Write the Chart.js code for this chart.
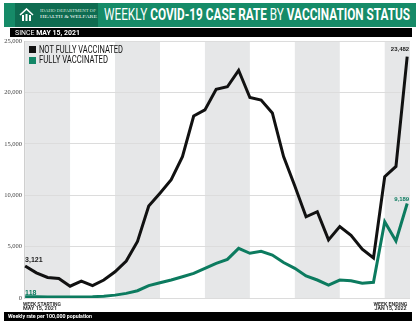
<!DOCTYPE html>
<html>
<head>
<meta charset="utf-8">
<script src="https://cdn.jsdelivr.net/npm/chart.js@4.4.1/dist/chart.umd.min.js"></script>
<style>
  html, body { margin: 0; padding: 0; background: #fff; }
  #wrap { position: relative; width: 420px; height: 325px; overflow: hidden; font-family: Roboto, "Liberation Sans", sans-serif; }
  #chart { position: absolute; left: 0; top: 0; }
  .abs { position: absolute; white-space: nowrap; line-height: 1; }
  .fit { display: inline-block; transform-origin: left center; }
  .fitr { display: inline-block; transform-origin: right center; }
</style>
</head>
<body>
<div id="wrap">
  <canvas id="chart" width="420" height="325"></canvas>

  <div class="abs" style="left:4px;top:3px;width:412px;height:24px;background:#168b68;"></div>
  <div class="abs" style="left:15px;top:3px;width:83px;height:24px;background:#0f6c51;"></div>
  <svg class="abs" style="left:19px;top:8px;" width="15" height="14" viewBox="0 0 15 14">
    <path d="M1 7 L7.5 1 L14 7" fill="none" stroke="#fff" stroke-width="1.6"/>
    <rect x="3" y="7" width="2" height="6" fill="#fff"/>
    <rect x="6.5" y="6" width="2" height="7" fill="#fff"/>
    <rect x="10" y="7" width="2" height="6" fill="#fff"/>
  </svg>
  <div class="abs" style="left:40px;top:10px;color:#cfe8df;font-family:'Liberation Serif',serif;font-size:3.5px;"><span class="fit" data-w="56">IDAHO DEPARTMENT OF</span></div>
  <div class="abs" style="left:40px;top:14px;color:#fff;font-family:'Liberation Serif',serif;font-size:5px;"><span class="fit" data-w="57">HEALTH &amp; WELFARE</span></div>

  <div class="abs" style="left:104px;top:7px;color:#fff;font-size:16px;"><span class="fit" data-w="306">WEEKLY <b>COVID-19 CASE RATE</b> BY <b>VACCINATION STATUS</b></span></div>

  <div class="abs" style="left:10px;top:28px;width:402px;height:9px;background:#000;"></div>
  <div class="abs" style="left:15px;top:29px;color:#fff;font-size:8px;"><span class="fit" data-w="65">SINCE <b>MAY 15, 2021</b></span></div>

  <div class="abs" style="left:29px;top:46px;width:7px;height:7px;background:#111;"></div>
  <div class="abs" style="left:39px;top:44.5px;color:#111;font-size:10px;"><span class="fit" data-w="84">NOT FULLY VACCINATED</span></div>
  <div class="abs" style="left:29px;top:57px;width:7px;height:7px;background:#138767;"></div>
  <div class="abs" style="left:39px;top:55px;color:#111;font-size:10px;"><span class="fit" data-w="69">FULLY VACCINATED</span></div>

  <div class="abs" style="left:23px;top:302px;color:#333;font-size:5px;line-height:4px;font-weight:bold;">
    <span class="fit" data-w="38">WEEK STARTING</span><br><span class="fit" data-w="34">MAY 15, 2021</span>
  </div>
  <div class="abs" style="right:13px;top:302px;color:#333;font-size:5px;line-height:4px;font-weight:bold;text-align:right;">
    <span class="fitr" data-w="34">WEEK ENDING</span><br><span class="fitr" data-w="32">JAN 15, 2022</span>
  </div>

  <div class="abs" style="left:4px;top:312px;width:408px;height:9px;background:#000;"></div>
  <div class="abs" style="left:8px;top:313px;color:#fff;font-size:6px;font-weight:bold;"><span class="fit" data-w="84">Weekly rate per 100,000 population</span></div>
</div>

<script>
// week starting dates, May 15, 2021 -> Jan 2022
const weeks = [
  'May 15', 'May 22', 'May 29', 'Jun 5', 'Jun 12', 'Jun 19', 'Jun 26',
  'Jul 3', 'Jul 10', 'Jul 17', 'Jul 24', 'Jul 31', 'Aug 7', 'Aug 14',
  'Aug 21', 'Aug 28', 'Sep 4', 'Sep 11', 'Sep 18', 'Sep 25', 'Oct 2',
  'Oct 9', 'Oct 16', 'Oct 23', 'Oct 30', 'Nov 6', 'Nov 13', 'Nov 20',
  'Nov 27', 'Dec 4', 'Dec 11', 'Dec 18', 'Dec 25', 'Jan 1', 'Jan 8'
];

const notFully = [
  3121, 2450, 2000, 1900, 1150, 1650, 1200, 1750, 2550, 3600,
  5500, 8950, 10200, 11500, 13750, 17700, 18300, 20300, 20550, 22150,
  19500, 19250, 18000, 13750, 10900, 7900, 8400, 5650, 6950, 6100,
  4750, 3900, 11800, 12800, 23482
];

const fully = [
  118, 110, 105, 100, 95, 105, 125, 175, 280, 450,
  710, 1200, 1490, 1750, 2070, 2400, 2890, 3370, 3760, 4830,
  4350, 4540, 4180, 3450, 2890, 2140, 1750, 1260, 1750, 1680,
  1430, 1530, 7420, 5545, 9189
];

const yMin = 0;
const yMax = 25000;
const yStep = 5000;

// shaded 4-week blocks
const bandStarts = [0, 8, 16, 24, 32];
const bandLen = 4;

const black = '#111111';
const green = '#0c7b5f';

const bands = {
  id: 'bands',
  beforeDraw(chart) {
    const {ctx, chartArea: a, scales: {x}} = chart;
    ctx.save();
    ctx.fillStyle = '#e6e7e8';
    bandStarts.forEach(s => {
      const l = Math.max(a.left, x.getPixelForValue(s));
      const r = Math.min(a.right, x.getPixelForValue(s + bandLen));
      ctx.fillRect(l, a.top, r - l, a.bottom - a.top);
    });
    ctx.restore();
  }
};

const endLabels = {
  id: 'endLabels',
  afterDatasetsDraw(chart) {
    const ctx = chart.ctx;
    const fmt = v => v.toLocaleString('en-US');
    const put = (di, idx, txt, align, size, dy, color) => {
      const p = chart.getDatasetMeta(di).data[idx];
      ctx.save();
      ctx.font = 'bold ' + size + 'px "Liberation Sans", sans-serif';
      ctx.fillStyle = color;
      ctx.textAlign = align;
      ctx.textBaseline = 'alphabetic';
      ctx.fillText(txt, align === 'left' ? p.x : p.x + 2, p.y + dy);
      ctx.restore();
    };
    const last = notFully.length - 1;
    put(0, 0, fmt(notFully[0]), 'left', 7, -4, '#222');
    put(1, 0, fmt(fully[0]), 'left', 7, -2, green);
    put(0, last, fmt(notFully[last]), 'right', 6, -6, '#222');
    put(1, last, fmt(fully[last]), 'right', 6, -3, green);
  }
};

const chart = new Chart(document.getElementById('chart').getContext('2d'), {
  type: 'line',
  data: {
    labels: weeks,
    datasets: [{
      label: 'NOT FULLY VACCINATED',
      data: notFully.map((v, i) => ({x: i, y: v})),
      borderColor: black,
      borderWidth: 3,
      pointRadius: 0,
      tension: 0,
      fill: false
    }, {
      label: 'FULLY VACCINATED',
      data: fully.map((v, i) => ({x: i, y: v})),
      borderColor: green,
      borderWidth: 3,
      pointRadius: 0,
      tension: 0,
      fill: false
    }]
  },
  options: {
    responsive: false,
    animation: false,
    devicePixelRatio: 1,
    layout: { padding: { left: 0, top: 41, right: 10, bottom: 27 } },
    scales: {
      x: {
        type: 'linear',
        min: -0.1,
        max: 34.25,
        display: false
      },
      y: {
        min: yMin,
        max: yMax,
        afterFit: s => { s.width = 24; },
        ticks: {
          stepSize: yStep,
          color: '#444',
          padding: 2,
          font: { family: '"Liberation Serif", serif', size: 6.5 },
          callback: v => v.toLocaleString('en-US')
        },
        grid: { color: '#dcdcdc', drawTicks: false },
        border: { color: '#cfcfcf' }
      }
    },
    plugins: {
      legend: { display: false },
      tooltip: { enabled: false }
    }
  },
  plugins: [bands, endLabels]
});

// squeeze header / legend text to the widths in the picture
document.querySelectorAll('.fit, .fitr').forEach(el => {
  const w = el.getBoundingClientRect().width;
  el.style.transform = 'scaleX(' + (parseFloat(el.dataset.w) / w) + ')';
});
</script>
</body>
</html>
